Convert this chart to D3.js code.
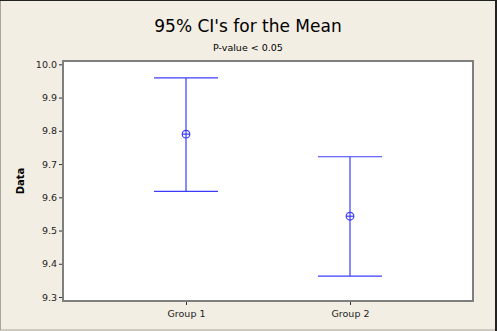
<!DOCTYPE html>
<html>
<head>
<meta charset="utf-8">
<script src="https://cdn.jsdelivr.net/npm/d3@7"></script>
<style>
  body { margin: 0; background: #fff; }
  svg { display: block; font-family: "DejaVu Sans", sans-serif; }
</style>
</head>
<body>
<svg id="chart" width="497" height="331"></svg>
<script>
const groups = ['Group 1', 'Group 2'];
const means = [9.790, 9.543];
const lower = [9.618, 9.363];
const upper = [9.959, 9.722];
const yTicks = [9.3, 9.4, 9.5, 9.6, 9.7, 9.8, 9.9, 10.0];

const svg = d3.select('#chart');
const width = +svg.attr('width');
const height = +svg.attr('height');

const margin = { top: 61, right: 24, bottom: 30, left: 63 };
const innerWidth = width - margin.left - margin.right;
const innerHeight = height - margin.top - margin.bottom;
const blue = '#3c3cff';
const font = '"DejaVu Sans", sans-serif';

// beige background and frame
svg.append('rect')
    .attr('width', width).attr('height', height)
    .attr('fill', '#f3eee3');
svg.append('rect')
    .attr('x', 0.5).attr('y', 0.5)
    .attr('width', width - 2).attr('height', height - 1.5)
    .attr('fill', 'none').attr('stroke', '#a9a59c');
svg.append('line')
    .attr('x1', 0).attr('x2', width).attr('y1', 0.5).attr('y2', 0.5)
    .attr('stroke', '#222');
svg.append('line')
    .attr('x1', width - 1).attr('x2', width - 1).attr('y1', 0).attr('y2', height)
    .attr('stroke', '#222').attr('stroke-width', 2);

// titles
svg.append('text')
    .attr('x', 248).attr('y', 32)
    .attr('text-anchor', 'middle')
    .style('font-size', '17px')
    .text("95% CI's for the Mean");

svg.append('text')
    .attr('x', 248).attr('y', 51)
    .attr('text-anchor', 'middle')
    .style('font-size', '9.5px')
    .text('P-value < 0.05');

const x = d3.scalePoint()
    .domain(groups)
    .range([0, innerWidth])
    .padding(0.75);

const y = d3.scaleLinear()
    .domain([9.288, 10.01])
    .range([innerHeight, 0]);

const g = svg.append('g')
    .attr('transform', 'translate(' + margin.left + ',' + margin.top + ')');

g.append('rect')
    .attr('width', innerWidth).attr('height', innerHeight)
    .attr('fill', '#fff')
    .attr('stroke', '#7f7f7f').attr('stroke-width', 2);

// y axis
const yAxis = g.append('g')
    .attr('transform', 'translate(-1,0)')
    .call(d3.axisLeft(y).tickValues(yTicks).tickFormat(d3.format('.1f')).tickSize(3));
yAxis.select('.domain').remove();
yAxis.selectAll('line').attr('stroke', '#333');
yAxis.selectAll('text')
    .attr('x', -5)
    .style('font-size', '9.5px')
    .style('font-family', font)
    .attr('fill', '#222');

// x axis
const xAxis = g.append('g')
    .attr('transform', 'translate(0,' + (innerHeight + 1) + ')')
    .call(d3.axisBottom(x).tickSize(3));
xAxis.select('.domain').remove();
xAxis.selectAll('line').attr('stroke', '#333');
xAxis.selectAll('text')
    .attr('y', 8)
    .style('font-size', '9.5px')
    .style('font-family', font)
    .attr('fill', '#222');

// y label
g.append('text')
    .attr('transform', 'rotate(-90)')
    .attr('x', -innerHeight / 2)
    .attr('y', -39)
    .attr('text-anchor', 'middle')
    .style('font-size', '10px')
    .style('font-weight', 'bold')
    .text('Data');

// interval bars
const data = groups.map((grp, i) => ({ grp, mean: means[i], lo: lower[i], hi: upper[i] }));
const capHalf = 32;

const bars = g.selectAll('.ci')
    .data(data)
    .enter()
    .append('g')
    .attr('class', 'ci')
    .attr('stroke', blue)
    .attr('stroke-width', 1.2)
    .attr('fill', 'none');

bars.append('line')
    .attr('x1', d => x(d.grp)).attr('x2', d => x(d.grp))
    .attr('y1', d => y(d.hi)).attr('y2', d => y(d.lo));
bars.append('line')
    .attr('x1', d => x(d.grp) - capHalf).attr('x2', d => x(d.grp) + capHalf)
    .attr('y1', d => y(d.hi)).attr('y2', d => y(d.hi));
bars.append('line')
    .attr('x1', d => x(d.grp) - capHalf).attr('x2', d => x(d.grp) + capHalf)
    .attr('y1', d => y(d.lo)).attr('y2', d => y(d.lo));
bars.append('circle')
    .attr('cx', d => x(d.grp)).attr('cy', d => y(d.mean))
    .attr('r', 3.8);
bars.append('line')
    .attr('x1', d => x(d.grp) - 4).attr('x2', d => x(d.grp) + 4)
    .attr('y1', d => y(d.mean)).attr('y2', d => y(d.mean));
</script>
</body>
</html>
